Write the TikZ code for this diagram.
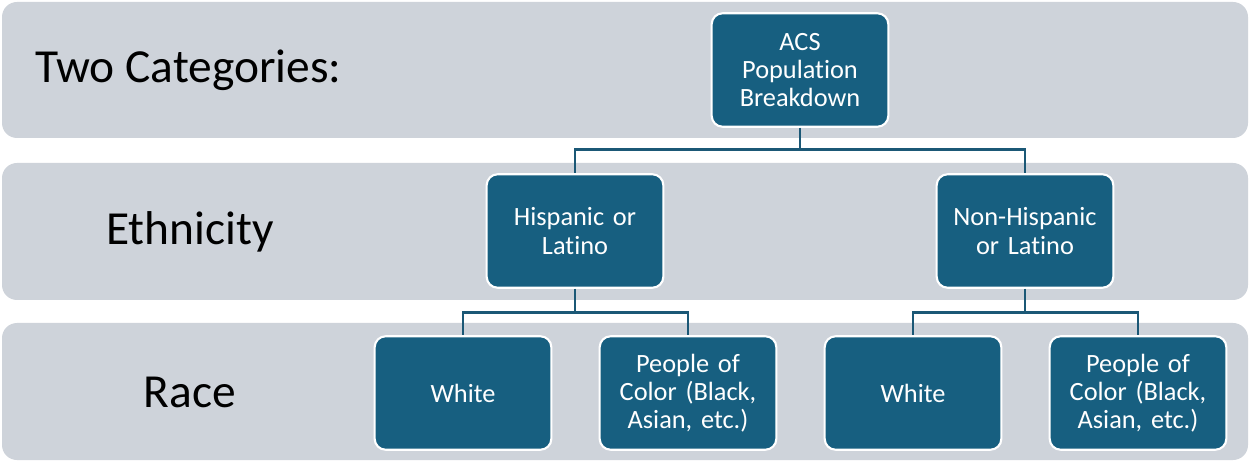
\documentclass[tikz,border=0pt]{standalone}
\usepackage{fontspec}
\setmainfont{Carlito}[Ligatures = NoCommon]
\definecolor{band}{HTML}{CED3DA}
\definecolor{boxblue}{HTML}{175F80}
\definecolor{linkblue}{HTML}{1B5876}

\tikzset{
	level/.style = {fill = band, rounded corners = 0.3cm},
	levellabel/.style = {font = \fontsize{27}{32}\selectfont, text = black},
	catbox/.style = {draw = white, line width = 1.2pt, fill = boxblue, rounded corners = 0.22cm,
		minimum width = 3.42cm, minimum height = 2.27cm, text width = 3.3cm, align = center,
		text = white, font = \fontsize{15}{16}\selectfont},
	link/.style = {draw = linkblue, line width = 1.6pt}
}

\begin{document}
\begin{tikzpicture}[x = 0.02cm, y = -0.02cm]

	\useasboundingbox (0, 0) rectangle (1250, 462);

	% Bands

	\fill [level] (2, 2) rectangle (1248, 138);
	\fill [level] (2, 163) rectangle (1248, 300);
	\fill [level] (2, 323) rectangle (1248, 460);

	\node [levellabel, anchor = west] (twocat) at (29, 70) {Two Categories:};
	\node [levellabel] (ethn) at (190, 232) {Ethnicity};
	\node [levellabel] (race) at (190, 392) {Race};

	% Boxes

	\node [catbox] (acs) at (800, 70) {ACS\\Population\\Breakdown};
	\node [catbox] (hisp) at (575, 231) {Hispanic or\\Latino};
	\node [catbox] (nonhisp) at (1025, 231) {Non-Hispanic\\or Latino};

	\node [catbox] (white1) at (463, 393) {White};
	\node [catbox] (poc1) at (688, 393) {People of\\Color (Black,\\Asian, etc.)};
	\node [catbox] (white2) at (913, 393) {White};
	\node [catbox] (poc2) at (1138, 393) {People of\\Color (Black,\\Asian, etc.)};

	% Connectors

	\draw [link] (acs.south) -- ++(0, 22) -| (hisp.north);
	\draw [link] (acs.south) -- ++(0, 22) -| (nonhisp.north);

	\draw [link] (hisp.south) -- ++(0, 24) -| (white1.north);
	\draw [link] (hisp.south) -- ++(0, 24) -| (poc1.north);

	\draw [link] (nonhisp.south) -- ++(0, 24) -| (white2.north);
	\draw [link] (nonhisp.south) -- ++(0, 24) -| (poc2.north);

\end{tikzpicture}
\end{document}
